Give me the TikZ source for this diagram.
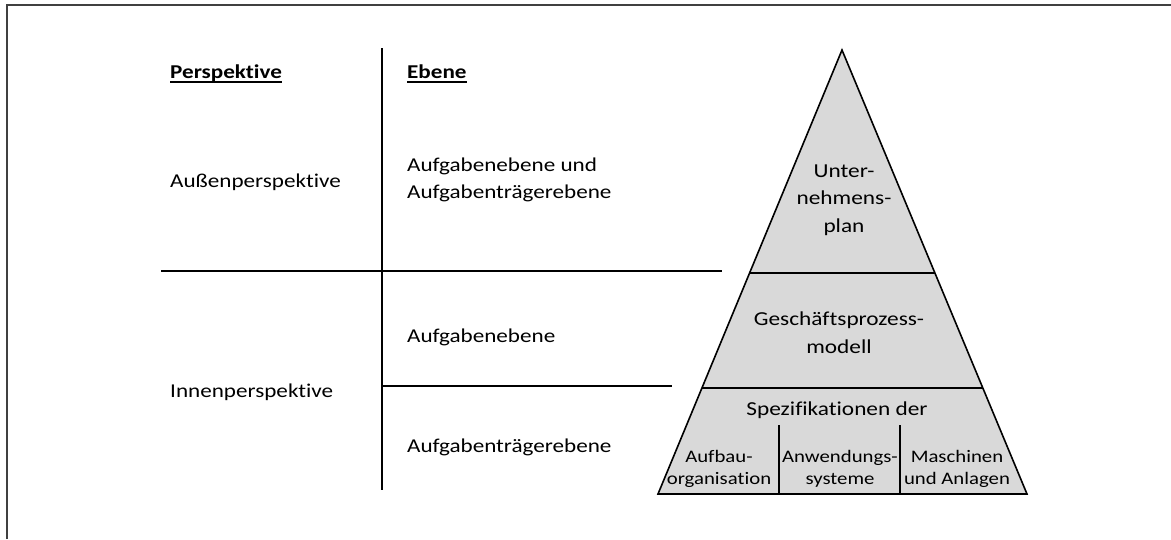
\documentclass[tikz,border=0pt]{standalone}
\usepackage{fontspec}
\setmainfont{Carlito}[FakeStretch=1.18,Ligatures={NoCommon}]
\newcommand\myul[1]{\setbox0\hbox{#1}\rlap{\rule[-4.6pt]{\wd0}{1.5pt}}\box0}
\begin{document}
\begin{tikzpicture}[x=1pt,y=-1pt,
  ltxt/.style={inner sep=0pt,anchor=base west,align=left,font=\fontsize{19.6}{27}\selectfont},
  htxt/.style={ltxt,font=\bfseries\fontsize{19.6}{27}\selectfont},
  ptxt/.style={inner sep=0pt,anchor=base,align=center,font=\fontsize{19.75}{27.5}\selectfont},
  stxt/.style={inner sep=0pt,anchor=base,align=center,font=\fontsize{17.6}{22.5}\selectfont},
  rule/.style={line width=1.6pt,black},
  frame/.style={line width=1.4pt,black!75}]
\useasboundingbox (0,0) rectangle (1171,539);
% outer frame (left and top edges)
\draw[frame] (7,539) -- (7,5) -- (1171,5);
% table lines
\coordinate (vt) at (382,48);
\coordinate (vb) at (382,490);
\coordinate (h1l) at (161,271);
\coordinate (h1r) at (722,271);
\coordinate (h2l) at (382,386);
\coordinate (h2r) at (672,386);
\draw[rule] (vt) -- (vb);
\draw[rule] (h1l) -- (h1r);
\draw[rule] (h2l) -- (h2r);
% table texts (base = baseline of the last line)
\node[htxt] (hp) at (170,78) {\myul{Perspektive}};
\node[htxt] (he) at (407,78) {\myul{Ebene}};
\node[ltxt] (ap) at (170,187.5) {Außenperspektive};
\node[ltxt] (ae) at (407,198) {Aufgabenebene und\\Aufgabenträgerebene};
\node[ltxt] (ab) at (407,342) {Aufgabenebene};
\node[ltxt] (ip) at (170,397) {Innenperspektive};
\node[ltxt] (at) at (407,452) {Aufgabenträgerebene};
% pyramid
\coordinate (apex) at (842,50);
\coordinate (bl) at (658,494);
\coordinate (br) at (1027,494);
\draw[rule,fill=black!15,line join=miter] (apex) -- (bl) -- (br) -- cycle;
\coordinate (d1l) at (749.5,273);
\coordinate (d1r) at (934.5,273);
\coordinate (d2l) at (701.5,388);
\coordinate (d2r) at (982.5,388);
\draw[rule] (d1l) -- (d1r);
\draw[rule] (d2l) -- (d2r);
\coordinate (c1t) at (779,425);
\coordinate (c1b) at (779,494);
\coordinate (c2t) at (900,425);
\coordinate (c2b) at (900,494);
\draw[rule] (c1t) -- (c1b);
\draw[rule] (c2t) -- (c2b);
\node[ptxt] (up) at (844,232) {Unter-\\nehmens-\\plan};
\node[ptxt] (gp) at (839,353) {Geschäftsprozess-\\modell};
\node[ptxt] (sp) at (837,415) {Spezifikationen der};
\node[stxt] (ao) at (719,484.5) {Aufbau-\\organisation};
\node[stxt] (as) at (840,484.5) {Anwendungs-\\systeme};
\node[stxt] (ma) at (957,484.5) {Maschinen\\und Anlagen};
\end{tikzpicture}
\end{document}
